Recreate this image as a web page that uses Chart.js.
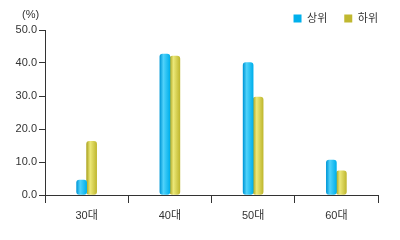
<!DOCTYPE html>
<html>
<head>
<meta charset="utf-8">
<script src="https://cdn.jsdelivr.net/npm/chart.js@4"></script>
<style>
html,body{margin:0;padding:0;background:#fff;}
#wrap{width:400px;height:240px;}
</style>
</head>
<body>
<div id="wrap"><canvas id="c" width="400" height="240"></canvas></div>
<script>
const categories = ['30대', '40대', '50대', '60대'];
const seriesNames = ['상위', '하위'];
const upperValues = [4.5, 42.7, 40.1, 10.6];
const lowerValues = [16.3, 42.1, 29.7, 7.3];
const unitLabel = '(%)';

const FONT = '"Liberation Sans", "Noto Sans CJK KR", sans-serif';
const blueStops = ['#0098d8', '#50d2fa', '#00b0ec'];
const yellowStops = ['#aca420', '#ece878', '#c0b830'];

function barFill(stops, offset) {
  return function (c) {
    const chart = c.chart;
    if (c.dataIndex === undefined || !chart.scales || !chart.scales.x) return stops[2];
    const xc = chart.scales.x.getPixelForValue(c.dataIndex) + offset;
    if (!isFinite(xc)) return stops[2];
    const g = chart.ctx.createLinearGradient(xc - 5, 0, xc + 5, 0);
    g.addColorStop(0, stops[0]);
    g.addColorStop(0.35, stops[1]);
    g.addColorStop(1, stops[2]);
    return g;
  };
}

const unitPlugin = {
  id: 'unit',
  afterDraw(chart) {
    const ctx = chart.ctx;
    ctx.save();
    ctx.font = '11px ' + FONT;
    ctx.fillStyle = '#333';
    ctx.textBaseline = 'middle';
    ctx.textAlign = 'left';
    ctx.fillText(unitLabel, 22, 15);
    ctx.restore();
  }
};

new Chart(document.getElementById('c'), {
  type: 'bar',
  data: {
    labels: categories,
    datasets: [
      { label: seriesNames[0], data: upperValues, backgroundColor: barFill(blueStops, -5), borderRadius: 3, borderSkipped: false },
      { label: seriesNames[1], data: lowerValues, backgroundColor: barFill(yellowStops, 5), borderRadius: 3, borderSkipped: false }
    ]
  },
  options: {
    responsive: false,
    animation: false,
    devicePixelRatio: 1,
    layout: { padding: { top: -4, right: 5, left: 0, bottom: 0 } },
    datasets: { bar: { barThickness: 10 } },
    plugins: {
      legend: {
        position: 'top',
        align: 'end',
        maxHeight: 34,
        labels: { boxWidth: 8, boxHeight: 8, padding: 17, color: '#333', font: { size: 11, family: FONT } }
      },
      tooltip: { enabled: false }
    },
    scales: {
      x: {
        afterFit(s) { s.height = 45; },
        grid: { offset: true, drawOnChartArea: false, drawTicks: true, tickLength: 8, color: '#333' },
        border: { display: true, color: '#333', width: 1 },
        ticks: { color: '#333', padding: 6, font: { size: 11, family: FONT } }
      },
      y: {
        min: 0, max: 50,
        afterFit(s) { s.width = 45; },
        grid: { drawOnChartArea: false, drawTicks: true, tickLength: 6, color: '#333' },
        border: { display: true, color: '#333', width: 1 },
        ticks: { stepSize: 10, color: '#333', padding: 2, font: { size: 11, family: FONT }, callback: v => v.toFixed(1) }
      },
      yr: {
        type: 'linear',
        position: 'right',
        afterFit(s) { s.width = 17; },
        grid: { display: false, drawTicks: false },
        border: { display: false },
        ticks: { display: false }
      }
    }
  },
  plugins: [unitPlugin]
});
</script>
</body>
</html>
